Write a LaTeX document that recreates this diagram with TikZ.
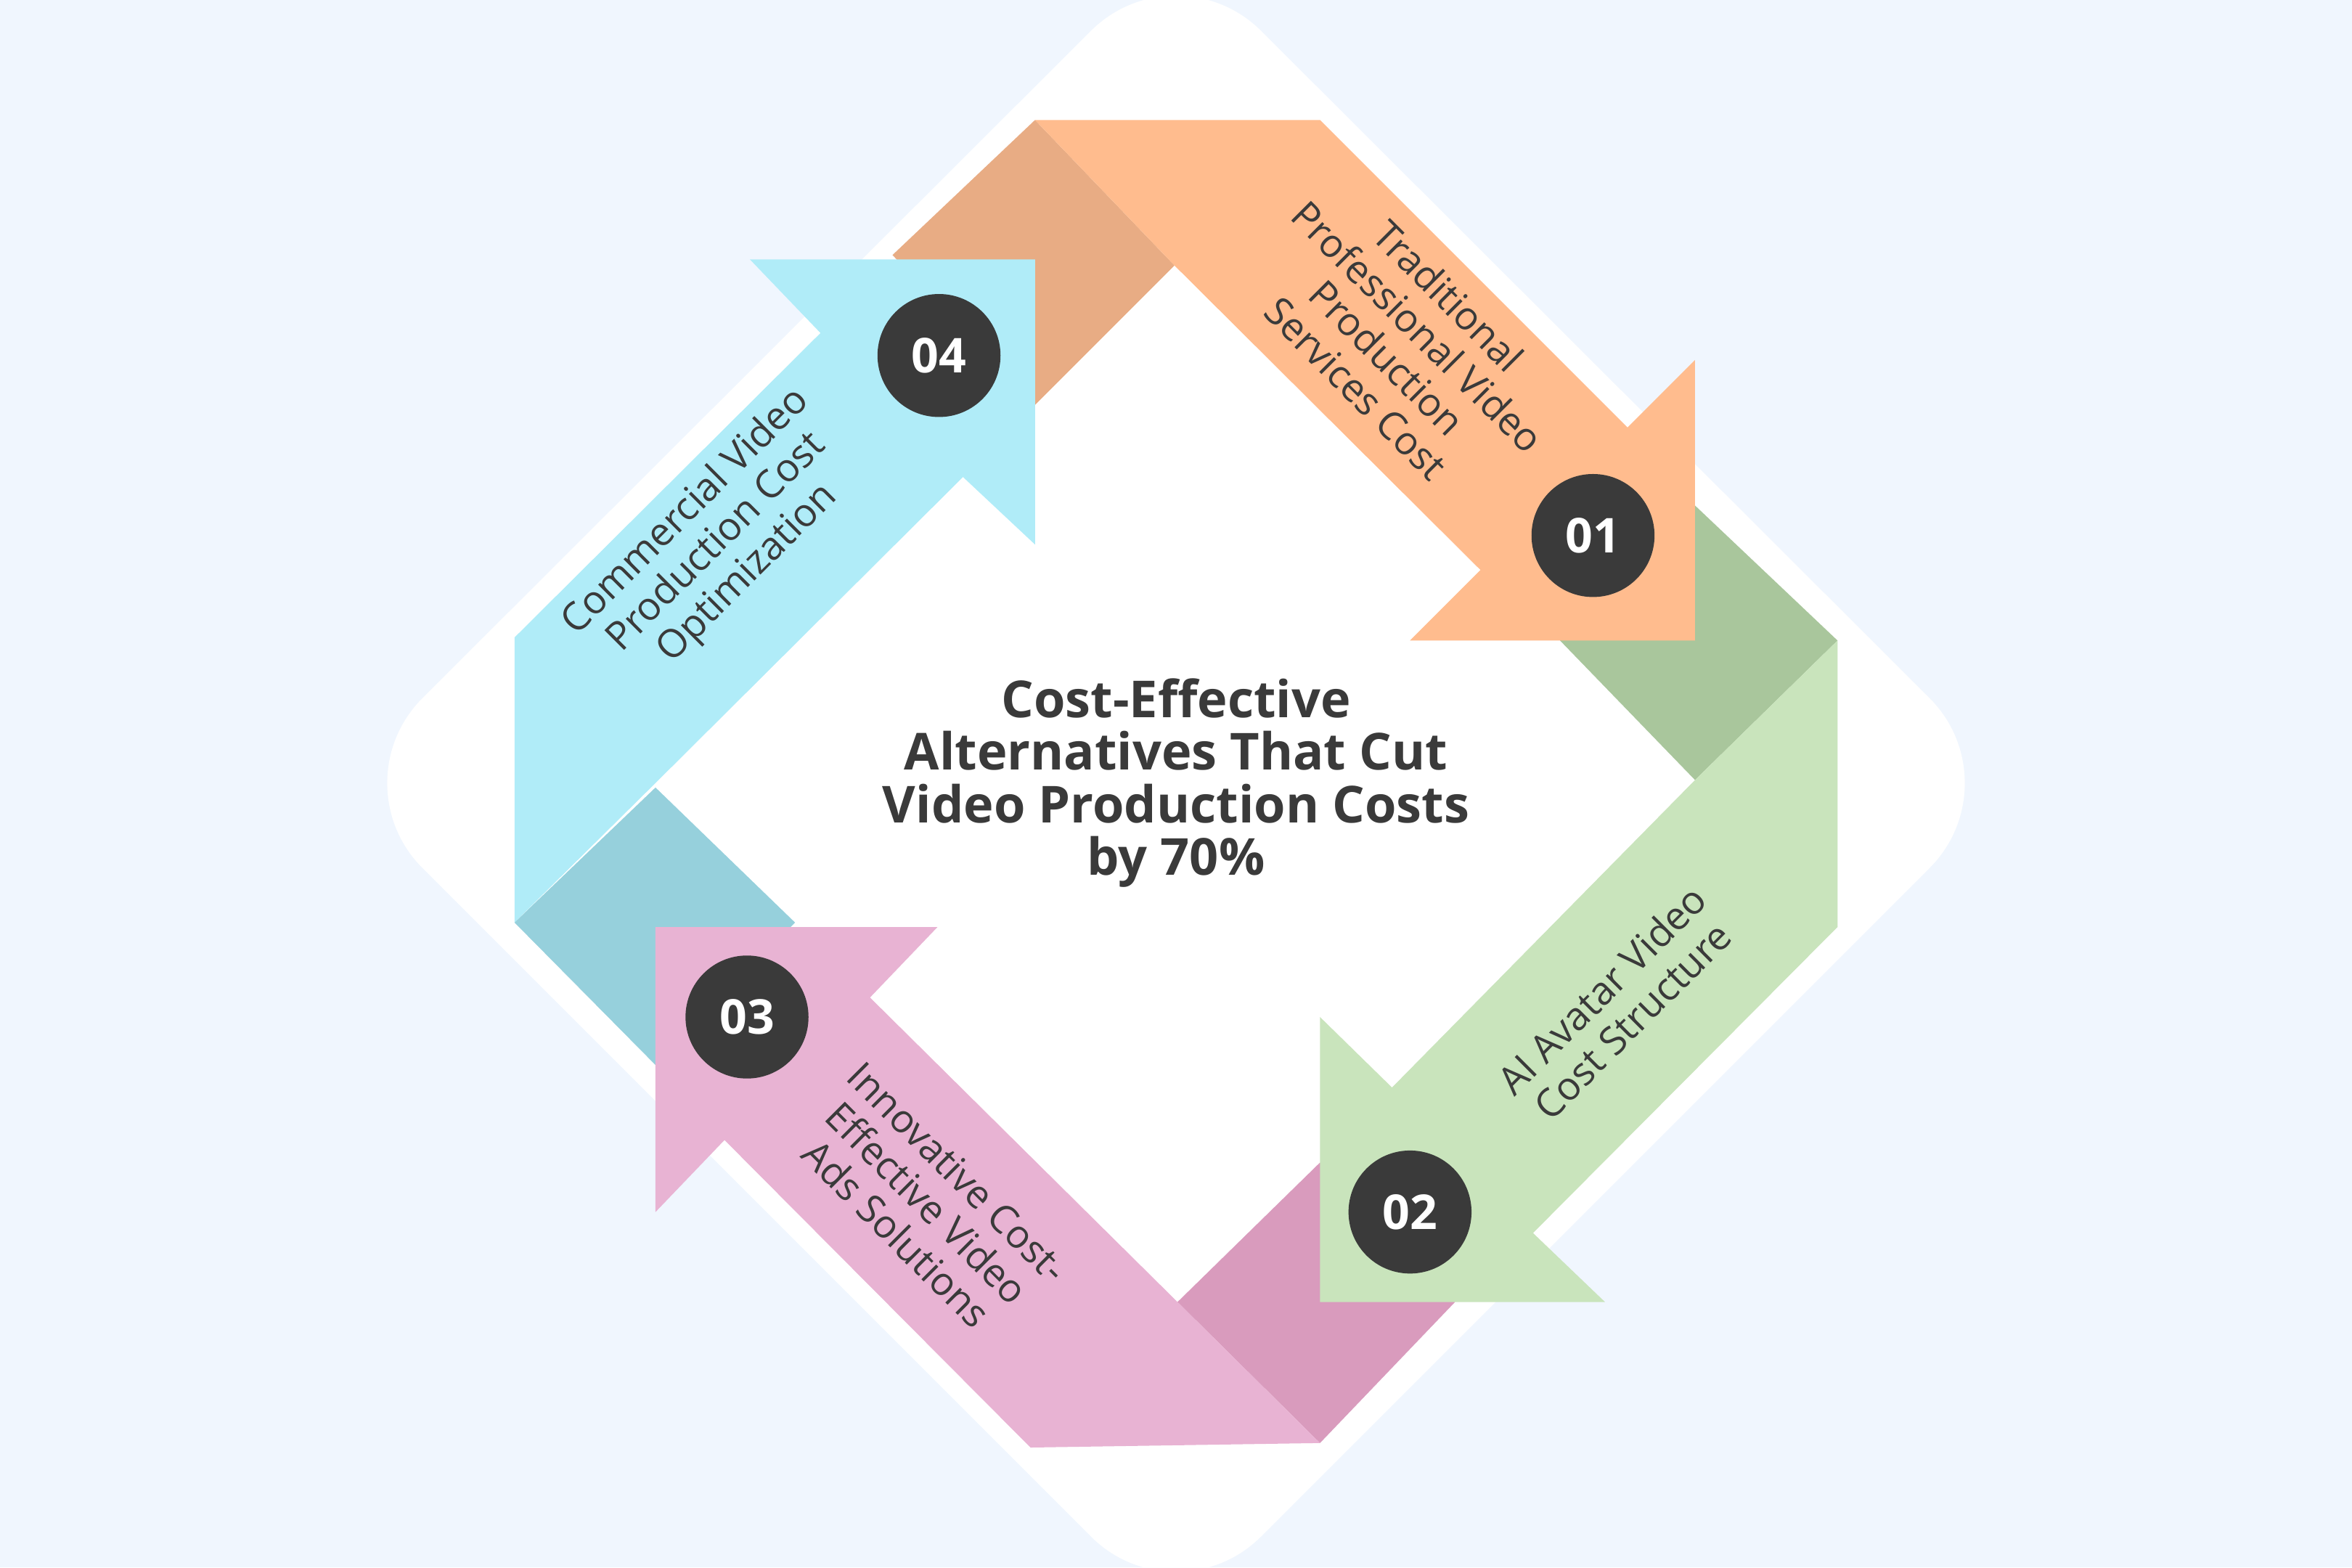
\documentclass[tikz,border=0pt]{standalone}
\usepackage{fontspec}
\setmainfont{Open Sans}
\definecolor{bg}{HTML}{F0F6FE}
\definecolor{orng}{HTML}{FFBC8E}
\definecolor{tan}{HTML}{E8AC84}
\definecolor{grn}{HTML}{C9E4BC}
\definecolor{dgrn}{HTML}{A9C69C}
\definecolor{pnk}{HTML}{E8B3D3}
\definecolor{dpnk}{HTML}{D99BBD}
\definecolor{blu}{HTML}{B0ECF8}
\definecolor{teal}{HTML}{96D0DC}
\definecolor{txt}{HTML}{3A3A3A}
\begin{document}
\begin{tikzpicture}[x=1pt,y=-1pt,
  num/.style={circle,fill=txt,minimum size=82pt,inner sep=0pt,text=white,font=\fontsize{32}{32}\selectfont\bfseries},
  lbl/.style={text=txt,align=center,font=\fontsize{26}{29}\selectfont}]
\useasboundingbox (0,0) rectangle (1568,1045);
\fill[bg] (0,0) rectangle (1568,1045);
\begin{scope}
\clip (0,0) rectangle (1568,1045);
\fill[white,rounded corners=80] (784,-36) -- (1343,522) -- (784,1081) -- (225,522) -- cycle;
\end{scope}
% folds
\fill[tan] (595,170) -- (690,80) -- (783,177) -- (690,270) -- cycle;
\fill[dgrn] (1130,337) -- (1225,427) -- (1130,520) -- (1040,427) -- cycle;
\fill[dpnk] (880,775) -- (970,868) -- (880,962) -- (785,868) -- cycle;
\fill[teal] (437,525) -- (530,615) -- (437,710) -- (343,615) -- cycle;
% bands
\fill[orng] (690,80) -- (880,80) -- (1085,285) -- (1130,240) -- (1130,427) -- (940,427) -- (987,380) -- (783,177) -- cycle;
\fill[grn] (1130,520) -- (1225,427) -- (1225,618) -- (1022,822) -- (1070,868) -- (880,868) -- (880,678) -- (928,725) -- cycle;
\fill[pnk] (785,868) -- (880,962) -- (687,965) -- (483,760) -- (437,808) -- (437,618) -- (625,618) -- (580,665) -- cycle;
\fill[blu] (343,615) -- (343,425) -- (547,222) -- (500,173) -- (690,173) -- (690,363) -- (642,318) -- (437,522) -- cycle;
% numbers
\node[num] (n4) at (626,237) {04};
\node[num] (n1) at (1062,357) {01};
\node[num] (n2) at (940,808) {02};
\node[num] (n3) at (498,678) {03};
% labels
\node[lbl,rotate=-45] (t1) at (935,228) {Traditional\\Professional Video\\Production\\Services Cost};
\node[lbl,rotate=45] (t2) at (1078,670) {AI Avatar Video\\Cost Structure};
\node[lbl,rotate=-45] (t3) at (618,802) {Innovative Cost-\\Effective Video\\Ads Solutions};
\node[lbl,rotate=45] (t4) at (478,362) {Commercial Video\\Production Cost\\Optimization};
\node[text=txt,align=center,font=\fontsize{34}{35}\selectfont\bfseries] (title) at (784,522) {Cost-Effective\\Alternatives That Cut\\Video Production Costs\\by 70\%};
\end{tikzpicture}
\end{document}
